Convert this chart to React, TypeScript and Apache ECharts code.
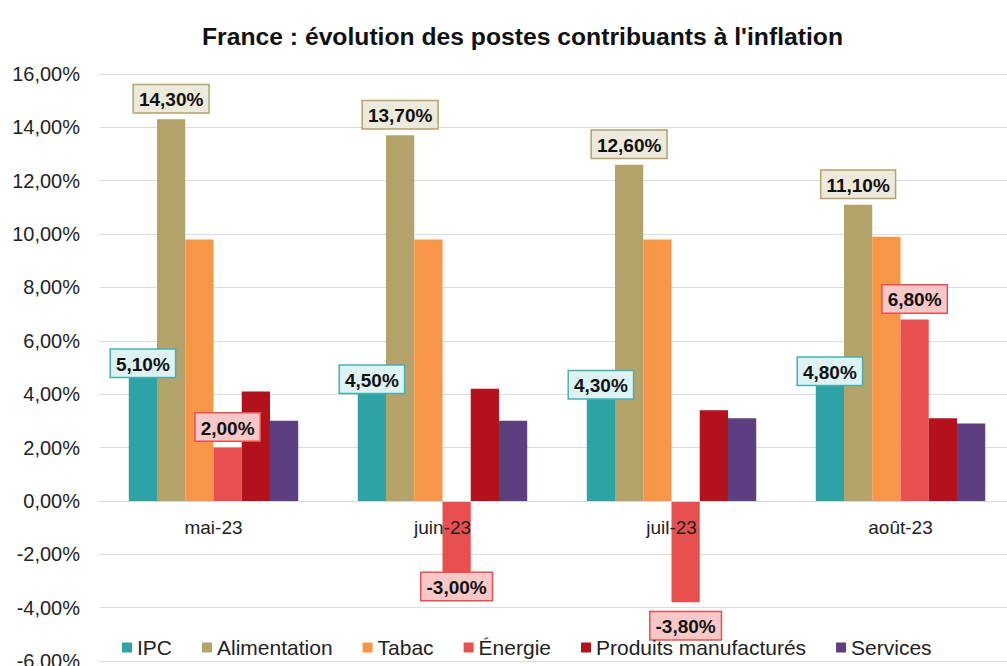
import React, { useEffect, useRef } from "react";
import * as echarts from "echarts";

const categories = ["mai-23", "juin-23", "juil-23", "août-23"];
const seriesNames = ["IPC", "Alimentation", "Tabac", "Énergie", "Produits manufacturés", "Services"];
const ipc = [5.1, 4.5, 4.3, 4.8];
const alimentation = [14.3, 13.7, 12.6, 11.1];
const tabac = [9.8, 9.8, 9.8, 9.9];
const energie = [2.0, -3.0, -3.8, 6.8];
const produits = [4.1, 4.2, 3.4, 3.1];
const services = [3.0, 3.0, 3.1, 2.9];
const yTicks = { min: -6, max: 16, interval: 2 };

const colors = ["#2ea3a6", "#b3a36b", "#f79646", "#e8504f", "#b3111c", "#5c3f7f"];
const FONT = "Liberation Sans, Arial, sans-serif";

const fmt = (v: number) => v.toFixed(2).replace(".", ",") + "%";

const W = 1007;
const H = 666;
const GRID = { left: 99, right: -8, top: 74, bottom: 5 };

export default function App() {
  const ref = useRef<HTMLDivElement>(null);
  useEffect(() => {
    const chart = echarts.init(ref.current!, null, { renderer: "svg" });
    const labelBox = (bg: string, border: string, extra: any = {}) => ({
      show: true,
      formatter: (p: any) => fmt(p.value),
      fontFamily: FONT,
      fontWeight: "bold",
      fontSize: 19,
      color: "#111",
      backgroundColor: bg,
      borderColor: border,
      borderWidth: 1.5,
      padding: [5, 5, 3, 5],
      ...extra,
    });
    const values = [ipc, alimentation, tabac, energie, produits, services];
    const labels: any[] = [
      labelBox("#dcf2f3", "#4aaeb1", { position: "top", distance: -12 }),
      labelBox("#eeeadb", "#b3a36b", { position: "top", distance: 7 }),
      { show: false },
      labelBox("#f8c8c8", "#e8504f", { position: "top", distance: 7 }),
      { show: false },
      { show: false },
    ];
    const series = seriesNames.map((name, i) => ({
      name,
      type: "bar",
      barGap: "0%",
      barCategoryGap: "26%",
      itemStyle: { color: colors[i] },
      label: labels[i],
      data: values[i].map((v) =>
        i === 3 && v < 0
          ? { value: v, label: { position: "bottom", distance: v < -3.5 ? 10 : -8 } }
          : v
      ),
    }));
    // place the category axis on the zero line of the value axis
    const plotH = H - GRID.top - GRID.bottom;
    const zeroOffset = -((0 - yTicks.min) / (yTicks.max - yTicks.min)) * plotH;
    chart.setOption({
      animation: false,
      textStyle: { fontFamily: FONT },
      title: {
        text: "France : évolution des postes contribuants à l'inflation",
        left: 197,
        top: 19,
        textStyle: { fontFamily: FONT, fontSize: 24.7, fontWeight: "bold", color: "#111" },
      },
      legend: {
        left: 117,
        top: 632,
        itemWidth: 10,
        itemHeight: 10,
        itemGap: 30,
        icon: "rect",
        textStyle: { fontFamily: FONT, fontSize: 21, color: "#222" },
        data: seriesNames,
      },
      grid: { ...GRID, containLabel: false, outerBoundsMode: "none" },
      xAxis: {
        type: "category",
        data: categories,
        position: "bottom",
        offset: zeroOffset,
        z: 5,
        axisLine: { onZero: false, lineStyle: { color: "#d6d6e0" } },
        axisTick: { show: false },
        axisLabel: { fontFamily: FONT, fontSize: 19, color: "#222", margin: 17 },
      },
      yAxis: {
        type: "value",
        min: yTicks.min,
        max: yTicks.max,
        interval: yTicks.interval,
        axisLabel: { formatter: fmt, fontFamily: FONT, fontSize: 20, color: "#222", margin: 19 },
        splitLine: { lineStyle: { color: "#dcdce6", width: 1 } },
        axisLine: { show: false },
        axisTick: { show: false },
      },
      series,
    });
    return () => chart.dispose();
  }, []);
  return (
    <div
      ref={ref}
      style={{ position: "fixed", left: 0, top: 0, width: W, height: H, background: "#fff" }}
    />
  );
}
